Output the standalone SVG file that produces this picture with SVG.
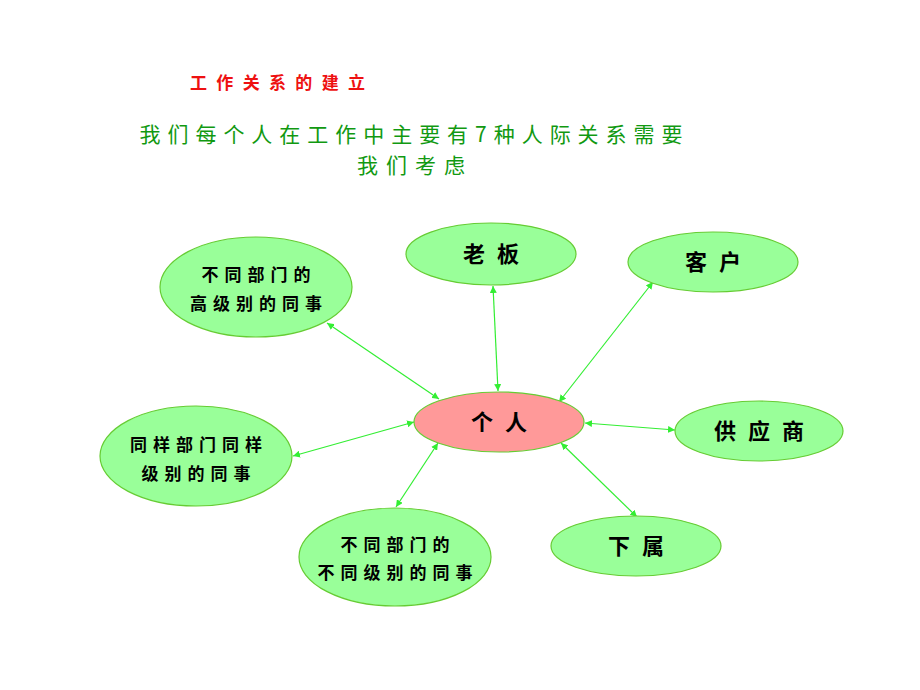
<svg xmlns="http://www.w3.org/2000/svg" width="920" height="690" viewBox="0 0 920 690">
<defs>
<style>
.node{fill:#99FF99;stroke:#66CC33;stroke-width:1.2}
.center{fill:#FF9999;stroke:#66CC33;stroke-width:1.2}
.lbl{font-family:"Noto Sans CJK SC","Noto Sans CJK JP",sans-serif;font-weight:bold;fill:#000;text-anchor:middle}
.big{font-size:22px;letter-spacing:12px}
.small{font-size:17px;letter-spacing:6px}
.conn{stroke:#33EE33;stroke-width:1.2;fill:none;marker-start:url(#ah);marker-end:url(#ah)}
.title{font-family:"Noto Sans CJK SC",sans-serif;font-weight:bold;font-size:17px;fill:#EE1111}
.sub{font-family:"Noto Sans CJK SC",sans-serif;font-size:21px;fill:#119911;text-anchor:middle}
</style>
<marker id="ah" viewBox="0 0 10 10" refX="10" refY="5" markerWidth="7" markerHeight="7" markerUnits="userSpaceOnUse" orient="auto-start-reverse">
<path d="M0,0 L10,5 L0,10 z" fill="#33EE33"/>
</marker>
</defs>
<rect width="920" height="690" fill="#fff"/>
<text class="title" x="190" y="89" textLength="175" lengthAdjust="spacing">工作关系的建立</text>
<text class="sub" x="411" y="142" textLength="543" lengthAdjust="spacing">我们每个人在工作中主要有7种人际关系需要</text>
<text class="sub" x="411" y="173" textLength="108" lengthAdjust="spacing">我们考虑</text>
<g id="connectors">
<line class="conn" x1="493" y1="286" x2="498" y2="391"/>
<line class="conn" x1="653" y1="282" x2="559" y2="402"/>
<line class="conn" x1="327" y1="323" x2="439" y2="399"/>
<line class="conn" x1="585" y1="423" x2="675" y2="430"/>
<line class="conn" x1="561" y1="443" x2="637" y2="517"/>
<line class="conn" x1="396" y1="507" x2="438" y2="443"/>
<line class="conn" x1="293" y1="456" x2="414" y2="422"/>
</g>
<g id="node-center">
<ellipse class="center" cx="499" cy="422" rx="85" ry="30"/>
<text class="lbl big" x="505" y="430">个人</text>
</g>
<g id="node-boss">
<ellipse class="node" cx="491" cy="254" rx="85" ry="31"/>
<text class="lbl big" x="497" y="262">老板</text>
</g>
<g id="node-client">
<ellipse class="node" cx="713" cy="262" rx="85" ry="30"/>
<text class="lbl big" x="719" y="270">客户</text>
</g>
<g id="node-supplier">
<ellipse class="node" cx="759" cy="431" rx="84" ry="30"/>
<text class="lbl big" x="765" y="439">供应商</text>
</g>
<g id="node-sub">
<ellipse class="node" cx="636" cy="546" rx="85" ry="30"/>
<text class="lbl big" x="642" y="554">下属</text>
</g>
<g id="node-high">
<ellipse class="node" cx="256" cy="287" rx="96" ry="50"/>
<text class="lbl small" x="259" y="281">不同部门的</text>
<text class="lbl small" x="259" y="310">高级别的同事</text>
</g>
<g id="node-same">
<ellipse class="node" cx="196" cy="456" rx="96" ry="50"/>
<text class="lbl small" x="199" y="451">同样部门同样</text>
<text class="lbl small" x="199" y="480">级别的同事</text>
</g>
<g id="node-diff">
<ellipse class="node" cx="395" cy="557" rx="96" ry="49"/>
<text class="lbl small" x="398" y="551">不同部门的</text>
<text class="lbl small" x="398" y="579">不同级别的同事</text>
</g>
</svg>
